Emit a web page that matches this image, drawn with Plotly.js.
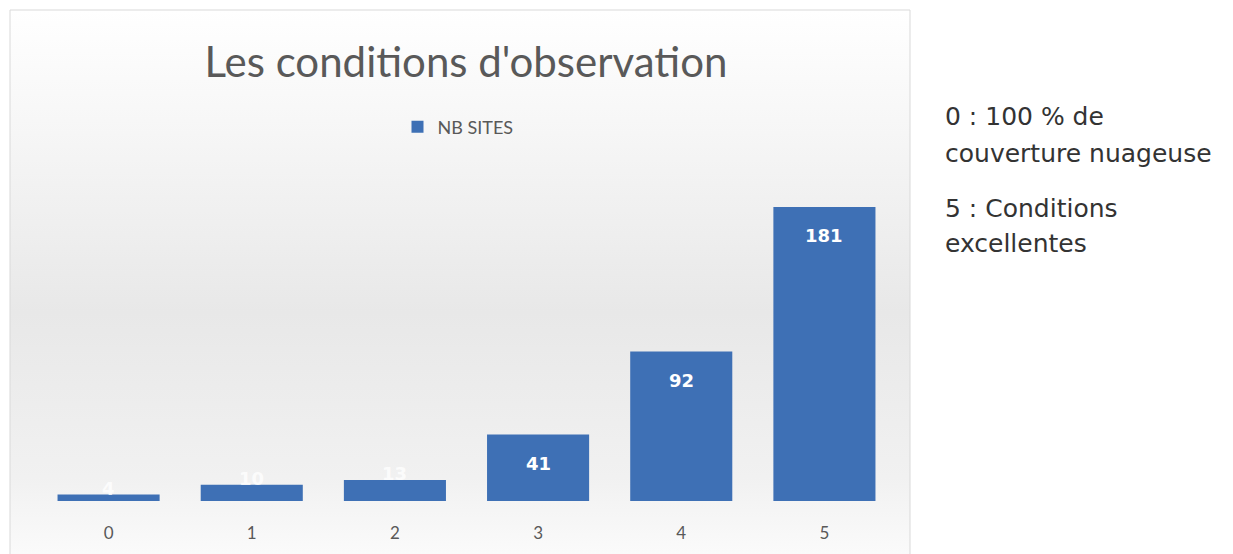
<!DOCTYPE html>
<html>
<head>
<meta charset="utf-8">
<script src="https://cdn.plot.ly/plotly-3.0.1.min.js"></script>
<style>html,body{margin:0;padding:0;background:#fff;}#chart{width:1233px;height:554px;}</style>
</head>
<body>
<div id="chart"></div>
<script>
const categories = ['0', '1', '2', '3', '4', '5'];
const nbSites = [4, 10, 13, 41, 92, 181];
const seriesName = 'NB SITES';
const chartTitle = "Les conditions d'observation";
const noteLines = ['0 : 100 % de', 'couverture nuageuse', '5 : Conditions', 'excellentes'];

const W = 1233, H = 554;
const m = {l: 37, r: 1233 - 896, t: 176, b: 554 - 501};
const pw = W - m.l - m.r, ph = H - m.t - m.b;
const px = v => (v - m.l) / pw;       // pixel x -> paper
const py = v => (H - m.b - v) / ph;   // pixel y -> paper

const gradSvg = '<svg xmlns="http://www.w3.org/2000/svg" width="100" height="100" preserveAspectRatio="none">' +
  '<defs><linearGradient id="g" x1="0" y1="0" x2="0" y2="1">' +
  '<stop offset="0" stop-color="#ffffff"/><stop offset="0.2" stop-color="#f7f7f7"/>' +
  '<stop offset="0.55" stop-color="#e8e8e8"/><stop offset="0.85" stop-color="#f1f1f1"/>' +
  '<stop offset="1" stop-color="#fbfbfb"/></linearGradient></defs>' +
  '<rect width="100" height="100" fill="url(#g)"/></svg>';
const gradUri = 'data:image/svg+xml;base64,' + btoa(gradSvg);

const barColor = '#3e70b5';

const trace = {
  type: 'bar',
  x: categories,
  y: nbSites,
  name: seriesName,
  marker: {color: barColor},
  showlegend: true,
  hoverinfo: 'x+y'
};

const labelAnns = categories.map((c, i) => {
  const big = nbSites[i] > 30;
  return {
    x: c, y: nbSites[i], xref: 'x', yref: 'y',
    text: '<b>' + nbSites[i] + '</b>',
    showarrow: false,
    yanchor: 'middle',
    yshift: big ? -29 : 6,
    font: {family: 'DejaVu Sans, sans-serif', size: 18, color: big ? '#ffffff' : 'rgba(255,255,255,0.8)'}
  };
});

const noteY = [117, 153, 208, 243];
const noteAnns = noteLines.map((t, i) => ({
  text: t, xref: 'paper', yref: 'paper',
  x: px(943), y: py(noteY[i]), xanchor: 'left', yanchor: 'middle',
  showarrow: false,
  font: {family: 'DejaVu Sans, sans-serif', size: 25, color: '#333333'}
}));

const layout = {
  width: W, height: H,
  margin: m,
  paper_bgcolor: '#ffffff',
  plot_bgcolor: 'rgba(0,0,0,0)',
  title: {
    text: chartTitle,
    x: px(466), xanchor: 'center', xref: 'paper',
    y: 1 - 62 / H, yanchor: 'middle', yref: 'container',
    font: {family: 'Lato, Open Sans, sans-serif', size: 42, color: '#595959'}
  },
  bargap: 0.287,
  xaxis: {
    type: 'category',
    showgrid: false, zeroline: false, showline: false,
    ticks: '', ticklabelstandoff: 20,
    tickfont: {family: 'Lato, Open Sans, sans-serif', size: 17, color: '#595959'},
    fixedrange: true
  },
  yaxis: {
    range: [0, 200],
    visible: false, showgrid: false, zeroline: false,
    fixedrange: true
  },
  showlegend: true,
  legend: {
    orientation: 'h',
    x: px(458), xanchor: 'center',
    y: py(127), yanchor: 'middle',
    bgcolor: 'rgba(0,0,0,0)',
    font: {family: 'Lato, Open Sans, sans-serif', size: 18, color: '#595959'},
    itemwidth: 30
  },
  images: [{
    source: gradUri, xref: 'paper', yref: 'paper',
    x: px(10), y: py(10), sizex: px(910) - px(10), sizey: py(10) - py(560),
    sizing: 'stretch', xanchor: 'left', yanchor: 'top', layer: 'below'
  }],
  shapes: [{
    type: 'rect', xref: 'paper', yref: 'paper',
    x0: px(10), x1: px(910), y0: py(560), y1: py(10),
    line: {color: '#d9d9d9', width: 1}, fillcolor: 'rgba(0,0,0,0)', layer: 'below'
  }],
  annotations: labelAnns.concat(noteAnns)
};

Plotly.newPlot('chart', [trace], layout, {displayModeBar: false, staticPlot: true});
</script>
</body>
</html>
